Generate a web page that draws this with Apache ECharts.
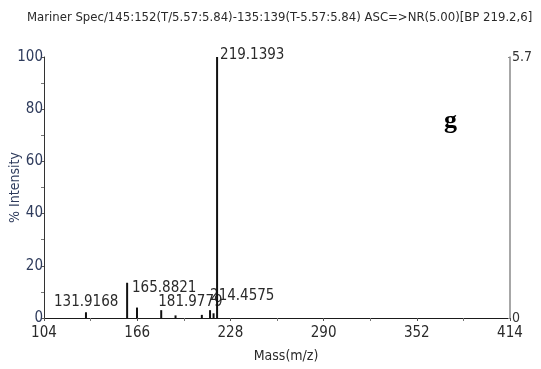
<!DOCTYPE html>
<html>
<head>
<meta charset="utf-8">
<script src="https://cdn.jsdelivr.net/npm/echarts@6/dist/echarts.min.js"></script>
<style>
  html, body { margin: 0; padding: 0; background: #fff; }
  #chart { width: 541px; height: 369px; }
</style>
</head>
<body>
<div id="chart"></div>
<script>
// Spectrum peaks: m/z and relative intensity (%)
const peakMz = [131.9168, 159.3, 165.8821, 181.9779, 191.5, 209.0, 214.4575, 216.8, 219.1393];
const peakIntensity = [2.2, 13.5, 4.0, 3.0, 1.0, 1.2, 3.0, 1.8, 100];
// Which peaks carry an m/z annotation
const labelledMz = [131.9168, 165.8821, 181.9779, 214.4575, 219.1393];

// Axis tick values
const massTicks = [104, 166, 228, 290, 352, 414];
const intensityTicks = [0, 20, 40, 60, 80, 100];
const absoluteTicks = [0, 5.7];

const titleText = 'Mariner Spec/145:152(T/5.57:5.84)-135:139(T-5.57:5.84) ASC=>NR(5.00)[BP 219.2,6]';

const FONT = '"DejaVu Sans Condensed", "Liberation Sans Narrow", sans-serif';
const LABEL_BLUE = '#2e3b5c';

// Text anchoring per annotation (pixel shifts from the peak top)
const annotationShift = {
  '131.9168': [-32, -3],
  '165.8821': [-5, -12],
  '181.9779': [-3, -1],
  '214.4575': [0, -7],
  '219.1393': [3, 6]
};

const peaks = peakMz.map((mz, i) => [mz, peakIntensity[i]]);

const chart = echarts.init(document.getElementById('chart'), null, { renderer: 'canvas' });

chart.setOption({
  animation: false,
  backgroundColor: '#ffffff',
  title: {
    text: titleText,
    left: 27,
    top: 11,
    padding: 0,
    textStyle: { fontFamily: FONT, fontSize: 13, fontWeight: 'normal', color: '#2a2a2a' }
  },
  graphic: [{
    type: 'text',
    left: 444,
    top: 108,
    style: { text: 'g', font: 'bold 26px "Liberation Serif", "DejaVu Serif", serif', fill: '#000' }
  }],
  grid: { left: 44, right: 31, top: 57, bottom: 51, outerBoundsMode: 'none' },
  xAxis: {
    type: 'value',
    min: massTicks[0],
    max: massTicks[massTicks.length - 1],
    interval: massTicks[1] - massTicks[0],
    name: 'Mass(m/z)',
    nameLocation: 'middle',
    nameGap: 31,
    nameMoveOverlap: false,
    nameTextStyle: { fontFamily: FONT, fontSize: 14, color: '#2a2a2a', padding: [0, 0, 0, 18] },
    axisLine: { show: true, lineStyle: { color: '#1a1a1a', width: 1 } },
    axisTick: { show: true, length: 3, lineStyle: { color: '#555' } },
    minorTick: { show: true, splitNumber: 2, length: 3, lineStyle: { color: '#777' } },
    axisLabel: { fontFamily: FONT, fontSize: 15, color: '#2a2a2a', margin: 8 },
    splitLine: { show: false }
  },
  yAxis: [{
    type: 'value',
    min: intensityTicks[0],
    max: intensityTicks[intensityTicks.length - 1],
    interval: intensityTicks[1] - intensityTicks[0],
    name: '% Intensity',
    nameLocation: 'middle',
    nameGap: 22,
    nameMoveOverlap: false,
    nameTextStyle: { fontFamily: FONT, fontSize: 14, color: LABEL_BLUE },
    axisLine: { show: true, lineStyle: { color: '#333', width: 1 } },
    axisTick: { show: true, length: 3, lineStyle: { color: '#555' } },
    minorTick: { show: true, splitNumber: 2, length: 3, lineStyle: { color: '#777' } },
    axisLabel: { fontFamily: FONT, fontSize: 15, color: LABEL_BLUE, margin: 1 },
    splitLine: { show: false }
  }, {
    type: 'value',
    position: 'right',
    min: absoluteTicks[0],
    max: absoluteTicks[1],
    interval: absoluteTicks[1] - absoluteTicks[0],
    axisLine: { show: true, lineStyle: { color: '#8a8a8a', width: 1.5 } },
    axisTick: { show: true, inside: true, length: 2, lineStyle: { color: '#8a8a8a' } },
    axisLabel: { fontFamily: FONT, fontSize: 14, color: '#333', margin: 2,
      formatter: v => (v === 0 ? '0' : v.toFixed(1)) },
    splitLine: { show: false }
  }],
  series: [{
    type: 'custom',
    clip: false,
    data: peaks,
    renderItem: function (params, api) {
      const mz = api.value(0);
      const top = api.coord([mz, api.value(1)]);
      const base = api.coord([mz, 0]);
      const children = [{
        type: 'line',
        shape: { x1: top[0], y1: top[1], x2: base[0], y2: base[1] },
        style: { stroke: '#111', lineWidth: 2 }
      }];
      const key = mz.toFixed(4);
      if (labelledMz.some(v => v.toFixed(4) === key)) {
        const s = annotationShift[key] || [0, 0];
        children.push({
          type: 'text',
          x: top[0] + s[0],
          y: top[1] + s[1],
          style: {
            text: key,
            fontFamily: FONT,
            fontSize: 15,
            fill: '#2a2a2a',
            textAlign: 'left',
            textVerticalAlign: 'bottom'
          }
        });
      }
      return { type: 'group', children: children };
    }
  }]
});
</script>
</body>
</html>
